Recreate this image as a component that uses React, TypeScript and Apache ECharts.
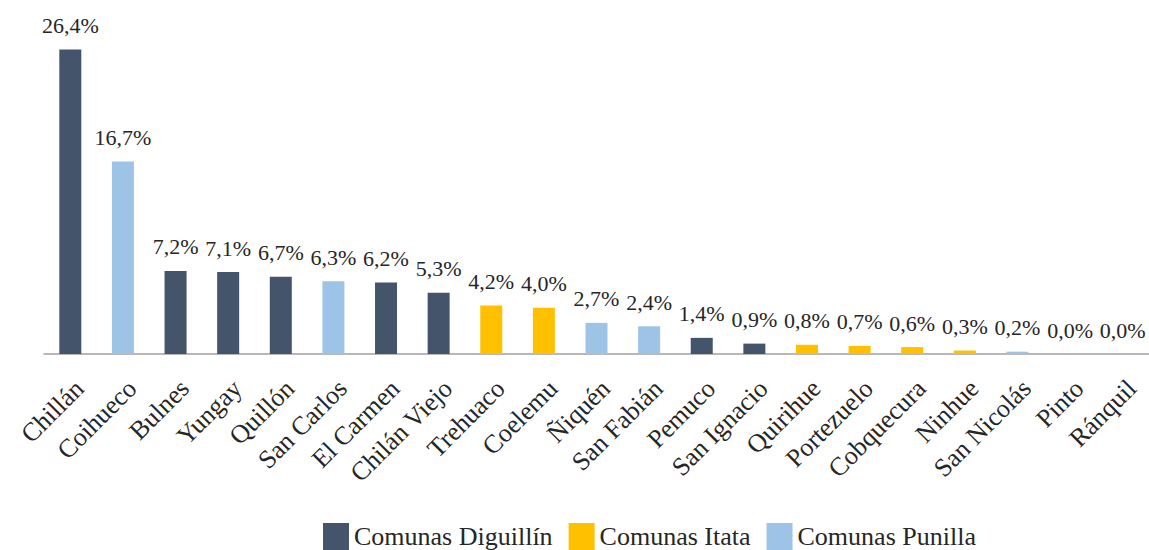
import React, { useEffect, useRef } from "react";
import * as echarts from "echarts";

const categories = [
  "Chillán", "Coihueco", "Bulnes", "Yungay", "Quillón", "San Carlos", "El Carmen",
  "Chilán Viejo", "Trehuaco", "Coelemu", "Ñiquén", "San Fabián", "Pemuco",
  "San Ignacio", "Quirihue", "Portezuelo", "Cobquecura", "Ninhue", "San Nicolás",
  "Pinto", "Ránquil",
];
const values = [
  26.4, 16.7, 7.2, 7.1, 6.7, 6.3, 6.2, 5.3, 4.2, 4.0, 2.7, 2.4, 1.4, 0.9, 0.8, 0.7,
  0.6, 0.3, 0.2, 0.0, 0.0,
];
const groups = [
  "Comunas Diguillín", "Comunas Punilla", "Comunas Diguillín", "Comunas Diguillín",
  "Comunas Diguillín", "Comunas Punilla", "Comunas Diguillín", "Comunas Diguillín",
  "Comunas Itata", "Comunas Itata", "Comunas Punilla", "Comunas Punilla",
  "Comunas Diguillín", "Comunas Diguillín", "Comunas Itata", "Comunas Itata",
  "Comunas Itata", "Comunas Itata", "Comunas Punilla", "Comunas Diguillín",
  "Comunas Itata",
];
const seriesNames = ["Comunas Diguillín", "Comunas Itata", "Comunas Punilla"];
const seriesColors = ["#44546A", "#FFC000", "#9DC3E6"];

const FONT = "Liberation Serif";

export default function App() {
  const ref = useRef<HTMLDivElement>(null);
  useEffect(() => {
    if (!ref.current) return;
    const chart = echarts.init(ref.current, null, { renderer: "svg" });
    const series = seriesNames.map((name, si) => ({
      name,
      type: "bar",
      stack: "all",
      barWidth: 22,
      itemStyle: { color: seriesColors[si] },
      label: {
        show: true,
        position: "top",
        distance: 13,
        fontFamily: FONT,
        fontSize: 22,
        color: "#262626",
        formatter: (p: any) => p.value.toFixed(1).replace(".", ",") + "%",
      },
      data: values.map((v, i) => (groups[i] === name ? v : null)),
    }));
    chart.setOption({
      animation: false,
      grid: { left: 44, top: 8, width: 1107, height: 346 },
      legend: {
        data: seriesNames,
        left: 318,
        top: 518,
        itemWidth: 26,
        itemHeight: 27,
        itemGap: 16,
        icon: "rect",
        textStyle: { fontFamily: FONT, fontSize: 26, color: "#262626" },
      },
      xAxis: {
        type: "category",
        data: categories,
        axisLine: { lineStyle: { color: "#A0A0A0", width: 1.5 } },
        axisTick: { show: false },
        axisLabel: {
          rotate: 45,
          interval: 0,
          margin: 21,
          verticalAlign: "top",
          fontFamily: FONT,
          fontSize: 26,
          color: "#262626",
        },
      },
      yAxis: {
        type: "value",
        min: 0,
        max: 30,
        show: false,
        splitLine: { show: false },
      },
      series,
    });
    return () => chart.dispose();
  }, []);
  return (
    <div
      ref={ref}
      style={{ position: "fixed", left: 0, top: 0, width: 1149, height: 550, background: "#fff" }}
    />
  );
}
